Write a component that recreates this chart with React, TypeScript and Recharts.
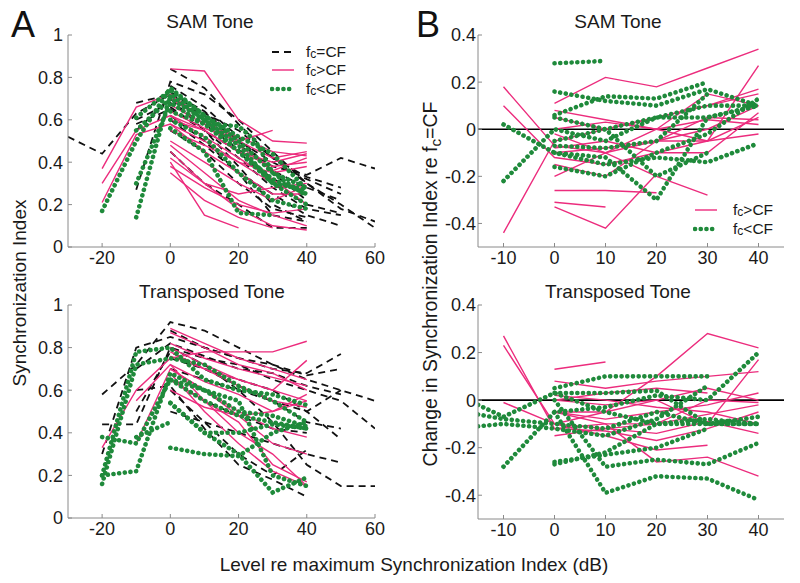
import React from "react";
import { LineChart, Line, XAxis, YAxis, ReferenceLine } from "recharts";

type Pt = [number, number];

// Panel A, SAM tone: synchronization index vs level
const samEqualCF: Pt[][] = [
  [[-30, 0.52], [-20, 0.44], [-10, 0.63], [0, 0.72], [10, 0.6], [20, 0.48], [30, 0.38], [40, 0.34], [50, 0.42], [60, 0.37]],
  [[-10, 0.68], [0, 0.72], [10, 0.63], [20, 0.55], [30, 0.42], [40, 0.33], [50, 0.28]],
  [[-10, 0.27], [0, 0.78], [10, 0.72], [20, 0.6], [30, 0.45], [40, 0.3], [50, 0.18], [60, 0.12]],
  [[0, 0.84], [10, 0.75], [20, 0.58], [30, 0.42], [40, 0.3], [50, 0.2], [60, 0.09]],
  [[-10, 0.55], [0, 0.7], [10, 0.55], [20, 0.42], [30, 0.28], [40, 0.18], [50, 0.15]],
  [[0, 0.76], [10, 0.66], [20, 0.52], [30, 0.35], [40, 0.22]],
  [[-10, 0.58], [0, 0.65], [10, 0.55], [20, 0.38], [30, 0.2], [40, 0.12]],
  [[0, 0.6], [10, 0.48], [20, 0.35], [30, 0.25], [40, 0.15], [50, 0.1]],
  [[0, 0.45], [10, 0.3], [20, 0.2], [30, 0.09], [40, 0.09]],
  [[0, 0.7], [10, 0.62], [20, 0.5], [30, 0.4], [40, 0.32], [50, 0.25]],
  [[-10, 0.6], [0, 0.68], [10, 0.58], [20, 0.46], [30, 0.32], [40, 0.26]],
  [[0, 0.66], [10, 0.55], [20, 0.45], [30, 0.3], [40, 0.2], [50, 0.16]],
  [[0, 0.55], [10, 0.45], [20, 0.3], [30, 0.18], [40, 0.14]],
  [[0, 0.73], [10, 0.64], [20, 0.5], [30, 0.36], [40, 0.28], [50, 0.22]],
  [[0, 0.62], [10, 0.5], [20, 0.35], [30, 0.15], [40, 0.12]],
];
const samAboveCF: Pt[][] = [
  [[-20, 0.37], [-10, 0.66], [0, 0.72], [10, 0.6], [20, 0.5], [30, 0.42], [40, 0.45]],
  [[-20, 0.3], [-10, 0.55], [0, 0.62], [10, 0.55], [20, 0.45], [30, 0.38], [40, 0.4]],
  [[-20, 0.21], [-10, 0.53], [0, 0.58], [10, 0.5], [20, 0.4], [30, 0.3], [40, 0.28]],
  [[0, 0.84], [10, 0.83], [20, 0.6], [30, 0.5], [40, 0.49]],
  [[0, 0.48], [10, 0.35], [20, 0.22], [30, 0.15], [40, 0.1]],
  [[0, 0.45], [10, 0.3], [20, 0.18], [30, 0.1], [40, 0.08]],
  [[0, 0.4], [10, 0.15], [20, 0.09]],
  [[0, 0.35], [10, 0.22], [20, 0.14], [30, 0.09]],
  [[0, 0.6], [10, 0.55], [20, 0.45], [30, 0.4], [40, 0.44]],
  [[0, 0.64], [10, 0.56], [20, 0.5], [30, 0.55]],
  [[0, 0.55], [10, 0.48], [20, 0.4], [30, 0.35], [40, 0.38]],
  [[0, 0.62], [10, 0.52], [20, 0.42], [30, 0.32], [40, 0.2]],
  [[0, 0.42], [10, 0.3], [20, 0.25], [30, 0.28], [40, 0.3]],
  [[0, 0.7], [10, 0.6], [20, 0.48], [30, 0.36], [40, 0.42]],
  [[0, 0.38], [10, 0.28], [20, 0.2], [30, 0.16], [40, 0.18]],
  [[0, 0.58], [10, 0.45], [20, 0.35], [30, 0.25], [40, 0.25]],
  [[0, 0.5], [10, 0.4], [20, 0.3], [30, 0.22], [40, 0.29]],
  [[0, 0.67], [10, 0.58], [20, 0.52], [30, 0.45], [40, 0.43]],
];
const samBelowCF: Pt[][] = [
  [[-20, 0.17], [-10, 0.5], [0, 0.75], [10, 0.62], [20, 0.5], [30, 0.35], [40, 0.28]],
  [[-10, 0.14], [0, 0.72], [10, 0.6], [20, 0.45], [30, 0.3], [40, 0.2]],
  [[-10, 0.3], [0, 0.68], [10, 0.58], [20, 0.45], [30, 0.32], [40, 0.25]],
  [[-10, 0.61], [0, 0.74], [10, 0.62], [20, 0.52], [30, 0.44], [40, 0.27]],
  [[0, 0.56], [10, 0.45], [20, 0.16], [30, 0.15]],
  [[0, 0.64], [10, 0.58], [20, 0.57], [25, 0.5], [30, 0.35], [40, 0.24]],
  [[0, 0.6], [10, 0.52], [20, 0.35], [30, 0.22], [40, 0.18]],
  [[-10, 0.55], [0, 0.7], [10, 0.6], [20, 0.48], [30, 0.3], [40, 0.27]],
];

// Panel A, transposed tone
const trEqualCF: Pt[][] = [
  [[-20, 0.58], [-10, 0.72], [0, 0.92], [10, 0.88], [20, 0.8], [30, 0.72], [40, 0.65], [50, 0.6], [60, 0.55]],
  [[-20, 0.3], [-10, 0.8], [0, 0.85], [10, 0.8], [20, 0.75], [30, 0.7], [40, 0.68], [50, 0.77]],
  [[-20, 0.44], [-10, 0.44], [0, 0.8], [10, 0.75], [20, 0.72], [30, 0.65], [40, 0.6], [50, 0.55], [60, 0.42]],
  [[-10, 0.6], [0, 0.62], [10, 0.42], [20, 0.25], [30, 0.18], [40, 0.1]],
  [[0, 0.8], [10, 0.72], [20, 0.6], [30, 0.45], [40, 0.25], [50, 0.15], [60, 0.15]],
  [[0, 0.75], [10, 0.7], [20, 0.65], [30, 0.6], [40, 0.5], [50, 0.37]],
  [[0, 0.5], [10, 0.45], [20, 0.4], [30, 0.35], [40, 0.3], [50, 0.26]],
  [[0, 0.7], [10, 0.65], [20, 0.6], [30, 0.55], [40, 0.45], [50, 0.42]],
  [[-10, 0.7], [0, 0.82], [10, 0.76], [20, 0.7], [30, 0.68], [40, 0.62], [50, 0.58]],
  [[0, 0.88], [10, 0.8], [20, 0.75], [30, 0.72], [40, 0.67], [50, 0.7]],
  [[0, 0.65], [10, 0.55], [20, 0.48], [30, 0.42], [40, 0.4]],
  [[-10, 0.5], [0, 0.78], [10, 0.7], [20, 0.62], [30, 0.55], [40, 0.5], [50, 0.6]],
  [[0, 0.6], [10, 0.45], [20, 0.3], [30, 0.2], [40, 0.32]],
];
const trAboveCF: Pt[][] = [
  [[-20, 0.33], [-10, 0.6], [0, 0.75], [10, 0.78], [20, 0.78], [30, 0.78], [40, 0.83]],
  [[0, 0.89], [10, 0.82], [20, 0.75], [30, 0.7], [40, 0.65]],
  [[0, 0.87], [10, 0.8], [20, 0.72], [30, 0.68], [40, 0.6]],
  [[0, 0.72], [10, 0.55], [20, 0.4], [30, 0.3], [40, 0.15]],
  [[0, 0.68], [10, 0.5], [20, 0.35], [30, 0.22], [40, 0.15]],
  [[-10, 0.35], [0, 0.7], [10, 0.6], [20, 0.48], [30, 0.35], [40, 0.3]],
  [[0, 0.8], [10, 0.72], [20, 0.65], [30, 0.6], [40, 0.55]],
  [[0, 0.78], [10, 0.7], [20, 0.62], [30, 0.55], [40, 0.52]],
  [[0, 0.76], [10, 0.7], [20, 0.65], [30, 0.6], [40, 0.74]],
  [[0, 0.65], [10, 0.55], [20, 0.45], [30, 0.25], [40, 0.17]],
  [[0, 0.82], [10, 0.75], [20, 0.7], [30, 0.66], [40, 0.62]],
  [[0, 0.7], [10, 0.6], [20, 0.5], [30, 0.42], [40, 0.38]],
  [[-10, 0.55], [0, 0.72], [10, 0.64], [20, 0.58], [30, 0.5], [40, 0.55]],
  [[0, 0.6], [10, 0.52], [20, 0.48], [30, 0.5], [40, 0.58]],
];
const trBelowCF: Pt[][] = [
  [[-20, 0.16], [-10, 0.72], [0, 0.75], [10, 0.72], [20, 0.62], [30, 0.55], [40, 0.45]],
  [[-20, 0.2], [-10, 0.22], [0, 0.68], [10, 0.6], [20, 0.5], [30, 0.48], [40, 0.43]],
  [[-20, 0.38], [-10, 0.35], [0, 0.65], [10, 0.55], [20, 0.48], [30, 0.45], [40, 0.42]],
  [[-20, 0.2], [-10, 0.78], [0, 0.8], [10, 0.65], [20, 0.6], [30, 0.58], [40, 0.53]],
  [[0, 0.33], [10, 0.3], [20, 0.29], [30, 0.4], [40, 0.45]],
  [[0, 0.54], [10, 0.4], [20, 0.3], [30, 0.12], [40, 0.19]],
  [[-10, 0.38], [0, 0.45]],
  [[0, 0.54], [10, 0.4], [20, 0.4], [30, 0.44], [40, 0.42]],
  [[0, 0.65], [10, 0.6], [20, 0.55], [30, 0.2], [40, 0.15]],
];

// Panel B, SAM tone: change re fc=CF
const samDiffAbove: Pt[][] = [
  [[-10, 0.18], [0, -0.07], [10, -0.1], [20, -0.05], [30, 0.0], [40, 0.1]],
  [[-10, 0.1], [0, -0.12], [10, -0.15], [20, -0.1], [30, -0.05], [40, 0.05]],
  [[-10, -0.44], [0, -0.05], [10, 0.0], [20, 0.05], [30, 0.1], [40, 0.17]],
  [[0, 0.11], [10, 0.22], [20, 0.18], [30, 0.26], [40, 0.34]],
  [[0, -0.26], [10, -0.26], [20, -0.27]],
  [[0, -0.31], [10, -0.33]],
  [[0, -0.33], [10, -0.42], [20, -0.19]],
  [[0, 0.08], [10, 0.04], [20, 0.0], [30, -0.05], [40, -0.02]],
  [[0, -0.02], [10, -0.1], [20, -0.2], [30, -0.28]],
  [[0, -0.2], [10, -0.1], [20, 0.0], [30, 0.15], [40, 0.1]],
  [[0, -0.1], [10, -0.08], [20, -0.05], [30, -0.05], [40, 0.27]],
  [[0, -0.15], [10, -0.2], [20, -0.05], [30, 0.05], [40, 0.04]],
  [[0, 0.05], [10, 0.0], [20, 0.05], [30, 0.1], [40, 0.15]],
  [[0, -0.08], [10, -0.05], [20, -0.1], [30, -0.1], [40, 0.07]],
  [[0, 0.0], [10, 0.03], [20, 0.0], [30, 0.04], [40, 0.02]],
];
const samDiffBelow: Pt[][] = [
  [[-10, -0.22], [0, 0.0], [10, -0.05], [20, 0.05], [30, 0.05], [40, 0.1]],
  [[-10, 0.02], [0, -0.1], [10, -0.15], [20, -0.12], [30, -0.14], [40, -0.06]],
  [[0, 0.28], [10, 0.29]],
  [[0, 0.16], [10, 0.12], [20, 0.1], [30, 0.17], [40, 0.1]],
  [[0, 0.06], [10, 0.14], [20, 0.13], [30, 0.2]],
  [[0, -0.16], [10, -0.2], [20, -0.1], [30, -0.02], [40, 0.13]],
  [[0, -0.1], [10, -0.12], [20, -0.3], [30, 0.05], [40, 0.1]],
  [[0, -0.05], [10, 0.0], [20, 0.05], [30, 0.1], [40, 0.1]],
  [[0, 0.05], [10, 0.0], [20, -0.2], [30, -0.1]],
  [[0, -0.07], [10, -0.08], [20, -0.05], [30, 0.15]],
];

// Panel B, transposed tone
const trDiffAbove: Pt[][] = [
  [[-10, 0.27], [0, -0.12], [10, -0.1], [20, -0.1], [30, 0.0], [40, -0.01]],
  [[-10, 0.23], [0, -0.1], [10, -0.05], [20, 0.0], [30, 0.05], [40, 0.0]],
  [[-10, -0.01], [0, -0.1], [10, -0.12], [20, -0.14], [30, -0.09], [40, -0.14]],
  [[0, 0.13], [10, 0.16]],
  [[0, -0.05], [10, -0.05], [20, 0.1], [30, 0.28], [40, 0.22]],
  [[0, -0.05], [10, -0.1], [20, -0.26], [30, -0.24], [40, -0.32]],
  [[0, 0.08], [10, 0.05], [20, 0.08], [30, 0.1], [40, 0.12]],
  [[0, -0.1], [10, -0.15], [20, -0.21], [30, -0.19]],
  [[0, 0.0], [10, -0.02], [20, 0.0], [30, -0.1], [40, 0.17]],
  [[0, -0.05], [10, -0.08], [20, -0.05], [30, -0.02], [40, 0.03]],
  [[0, 0.02], [10, 0.0], [20, -0.03], [30, -0.05], [40, -0.1]],
  [[0, -0.15], [10, -0.12], [20, -0.1], [30, -0.06], [40, -0.02]],
  [[0, 0.0], [10, 0.03], [20, 0.05], [30, 0.03]],
  [[0, -0.12], [10, -0.13], [20, -0.17], [30, -0.12], [40, -0.05]],
];
const trDiffBelow: Pt[][] = [
  [[-15, -0.02], [-10, -0.07], [0, 0.03], [10, -0.05], [20, -0.1], [30, -0.08], [40, -0.1]],
  [[-15, -0.06], [-10, -0.08], [0, -0.1], [10, -0.12], [20, -0.05], [30, -0.1], [40, -0.07]],
  [[-15, -0.11], [-10, -0.1], [0, -0.12], [10, -0.15], [20, -0.08], [30, 0.06]],
  [[-10, -0.28], [0, -0.05], [10, -0.03], [20, 0.02], [30, 0.0], [40, 0.2]],
  [[0, 0.05], [10, 0.1], [20, 0.1], [30, 0.1]],
  [[0, -0.26], [10, -0.23], [20, -0.2], [30, -0.12]],
  [[0, -0.27], [10, -0.22], [20, -0.1], [30, -0.1], [40, -0.1]],
  [[0, -0.05], [10, -0.39], [20, -0.32], [30, -0.33], [40, -0.42]],
  [[0, 0.0], [10, -0.28], [20, -0.25], [30, -0.27], [40, -0.18]],
  [[0, 0.03], [10, 0.03], [20, 0.04], [30, -0.1], [40, -0.1]],
];

const xTicksA = [-20, 0, 20, 40, 60];
const yTicksA = [0, 0.2, 0.4, 0.6, 0.8, 1];
const xTicksB = [-10, 0, 10, 20, 30, 40];
const yTicksB = [-0.4, -0.2, 0, 0.2, 0.4];

const FONT = "'Liberation Sans', Arial, Helvetica, sans-serif";
const PINK = "#EC2C7D";
const GREEN = "#1F8A3B";
const BLACK = "#111111";
const FRAME = "#8a8a8a";

const styleEqual = { stroke: BLACK, strokeWidth: 1.8, strokeDasharray: "7 5" };
const styleAbove = { stroke: PINK, strokeWidth: 1.4 };
const styleBelow = { stroke: GREEN, strokeWidth: 4.6, strokeDasharray: "0.1 5.6", strokeLinecap: "round" as const };

const toRows = (p: Pt[]) => p.map(([x, y]) => ({ x, y }));

type Group = { lines: Pt[][]; style: Record<string, any> };

function Panel(props: {
  left: number;
  top: number;
  width: number;
  height: number;
  margin: { top: number; right: number; bottom: number; left: number };
  yWidth: number;
  yMargin: number;
  xDomain: [number, number];
  xTicks: number[];
  yDomain: [number, number];
  yTicks: number[];
  groups: Group[];
  zeroLine?: boolean;
}) {
  const tick = { fontSize: 18, fill: "#1a1a1a", fontFamily: FONT };
  const empty = () => <g />;
  return (
    <div style={{ position: "absolute", left: props.left, top: props.top }}>
      <LineChart width={props.width} height={props.height} margin={props.margin}>
        <XAxis
          type="number"
          dataKey="x"
          domain={props.xDomain}
          ticks={props.xTicks}
          allowDataOverflow
          height={28}
          tick={tick}
          tickSize={-4}
          tickMargin={8}
          stroke={FRAME}
        />
        <XAxis
          xAxisId="top"
          orientation="top"
          type="number"
          domain={props.xDomain}
          ticks={props.xTicks}
          allowDataOverflow
          height={0}
          tick={empty}
          tickSize={-4}
          stroke={FRAME}
        />
        <YAxis
          type="number"
          domain={props.yDomain}
          ticks={props.yTicks}
          allowDataOverflow
          width={props.yWidth}
          tick={tick}
          tickSize={-4}
          tickMargin={props.yMargin}
          stroke={FRAME}
        />
        <YAxis
          yAxisId="right"
          orientation="right"
          type="number"
          domain={props.yDomain}
          ticks={props.yTicks}
          allowDataOverflow
          width={0}
          tick={empty}
          tickSize={-4}
          stroke={FRAME}
        />
        {props.zeroLine && <ReferenceLine y={0} stroke="#000" strokeWidth={1.6} />}
        {props.groups.map((g, gi) =>
          g.lines.map((ln, li) => (
            <Line
              key={`${gi}-${li}`}
              data={toRows(ln)}
              dataKey="y"
              type="linear"
              dot={false}
              activeDot={false}
              isAnimationActive={false}
              {...g.style}
            />
          ))
        )}
      </LineChart>
    </div>
  );
}

const Fc = ({ rest, shift = "-0.25em" }: { rest: string; shift?: string }) => (
  <span>
    f<span style={{ fontSize: "0.78em", verticalAlign: shift, lineHeight: 0 }}>c</span>
    {rest}
  </span>
);

function LegendRow(props: { x: number; y: number; gap: number; style: Record<string, any>; label: string }) {
  return (
    <div style={{ position: "absolute", left: props.x, top: props.y - 8, height: 16, display: "flex", alignItems: "center" }}>
      <svg width={26} height={8} style={{ marginRight: props.gap }}>
        <line x1={2} y1={4} x2={24} y2={4} {...props.style} />
      </svg>
      <span style={{ fontSize: 15.5, fontFamily: FONT, color: "#1a1a1a", lineHeight: "16px" }}>
        <Fc rest={props.label} shift="-0.12em" />
      </span>
    </div>
  );
}

function Label(props: { cx: number; cy: number; size: number; rotate?: boolean; children: React.ReactNode }) {
  const w = 520;
  return (
    <div
      style={{
        position: "absolute",
        left: props.cx - w / 2,
        top: props.cy - 14,
        width: w,
        height: 28,
        lineHeight: "28px",
        textAlign: "center",
        fontSize: props.size,
        fontFamily: FONT,
        color: "#1a1a1a",
        whiteSpace: "nowrap",
        transform: props.rotate ? "rotate(-90deg)" : undefined,
      }}
    >
      {props.children}
    </div>
  );
}

export default function App() {
  return (
    <div style={{ position: "absolute", left: 0, top: 0, width: 800, height: 583, background: "#fff", overflow: "hidden" }}>
      <Panel
        left={0}
        top={0}
        width={385}
        height={275}
        margin={{ top: 35, right: 10, bottom: 0, left: 28 }}
        yWidth={40}
        yMargin={9}
        xDomain={[-30, 60]}
        xTicks={xTicksA}
        yDomain={[0, 1]}
        yTicks={yTicksA}
        groups={[
          { lines: samEqualCF, style: styleEqual },
          { lines: samAboveCF, style: styleAbove },
          { lines: samBelowCF, style: styleBelow },
        ]}
      />
      <Panel
        left={0}
        top={270}
        width={385}
        height={276}
        margin={{ top: 35, right: 10, bottom: 0, left: 28 }}
        yWidth={40}
        yMargin={9}
        xDomain={[-30, 60]}
        xTicks={xTicksA}
        yDomain={[0, 1]}
        yTicks={yTicksA}
        groups={[
          { lines: trEqualCF, style: styleEqual },
          { lines: trAboveCF, style: styleAbove },
          { lines: trBelowCF, style: styleBelow },
        ]}
      />
      <Panel
        left={400}
        top={0}
        width={395}
        height={275}
        margin={{ top: 35, right: 11, bottom: 0, left: 33 }}
        yWidth={45}
        yMargin={6}
        xDomain={[-15, 45]}
        xTicks={xTicksB}
        yDomain={[-0.5, 0.4]}
        yTicks={yTicksB}
        zeroLine
        groups={[
          { lines: samDiffAbove, style: styleAbove },
          { lines: samDiffBelow, style: styleBelow },
        ]}
      />
      <Panel
        left={400}
        top={270}
        width={395}
        height={277}
        margin={{ top: 35, right: 11, bottom: 0, left: 33 }}
        yWidth={45}
        yMargin={6}
        xDomain={[-15, 45]}
        xTicks={xTicksB}
        yDomain={[-0.5, 0.4]}
        yTicks={yTicksB}
        zeroLine
        groups={[
          { lines: trDiffAbove, style: styleAbove },
          { lines: trDiffBelow, style: styleBelow },
        ]}
      />

      <Label cx={210} cy={22} size={19}>SAM Tone</Label>
      <Label cx={212} cy={292} size={19}>Transposed Tone</Label>
      <Label cx={618} cy={22} size={19}>SAM Tone</Label>
      <Label cx={618} cy={292} size={19}>Transposed Tone</Label>
      <Label cx={414} cy={565} size={19}>Level re maximum Synchronization Index (dB)</Label>
      <Label cx={20} cy={293} size={19} rotate>Synchronization Index</Label>
      <Label cx={430} cy={284} size={19.5} rotate>
        Change in Synchronization Index re <Fc rest="=CF" />
      </Label>

      <div style={{ position: "absolute", left: 11, top: 4, fontSize: 36, fontFamily: FONT, color: "#111" }}>A</div>
      <div style={{ position: "absolute", left: 416, top: 4, fontSize: 36, fontFamily: FONT, color: "#111" }}>B</div>

      <LegendRow x={270} y={51.5} gap={10} style={styleEqual} label="=CF" />
      <LegendRow x={270} y={70} gap={10} style={styleAbove} label=">CF" />
      <LegendRow x={270} y={88.5} gap={10} style={styleBelow} label="<CF" />
      <LegendRow x={693} y={210} gap={14} style={styleAbove} label=">CF" />
      <LegendRow x={693} y={228.5} gap={14} style={styleBelow} label="<CF" />
    </div>
  );
}
